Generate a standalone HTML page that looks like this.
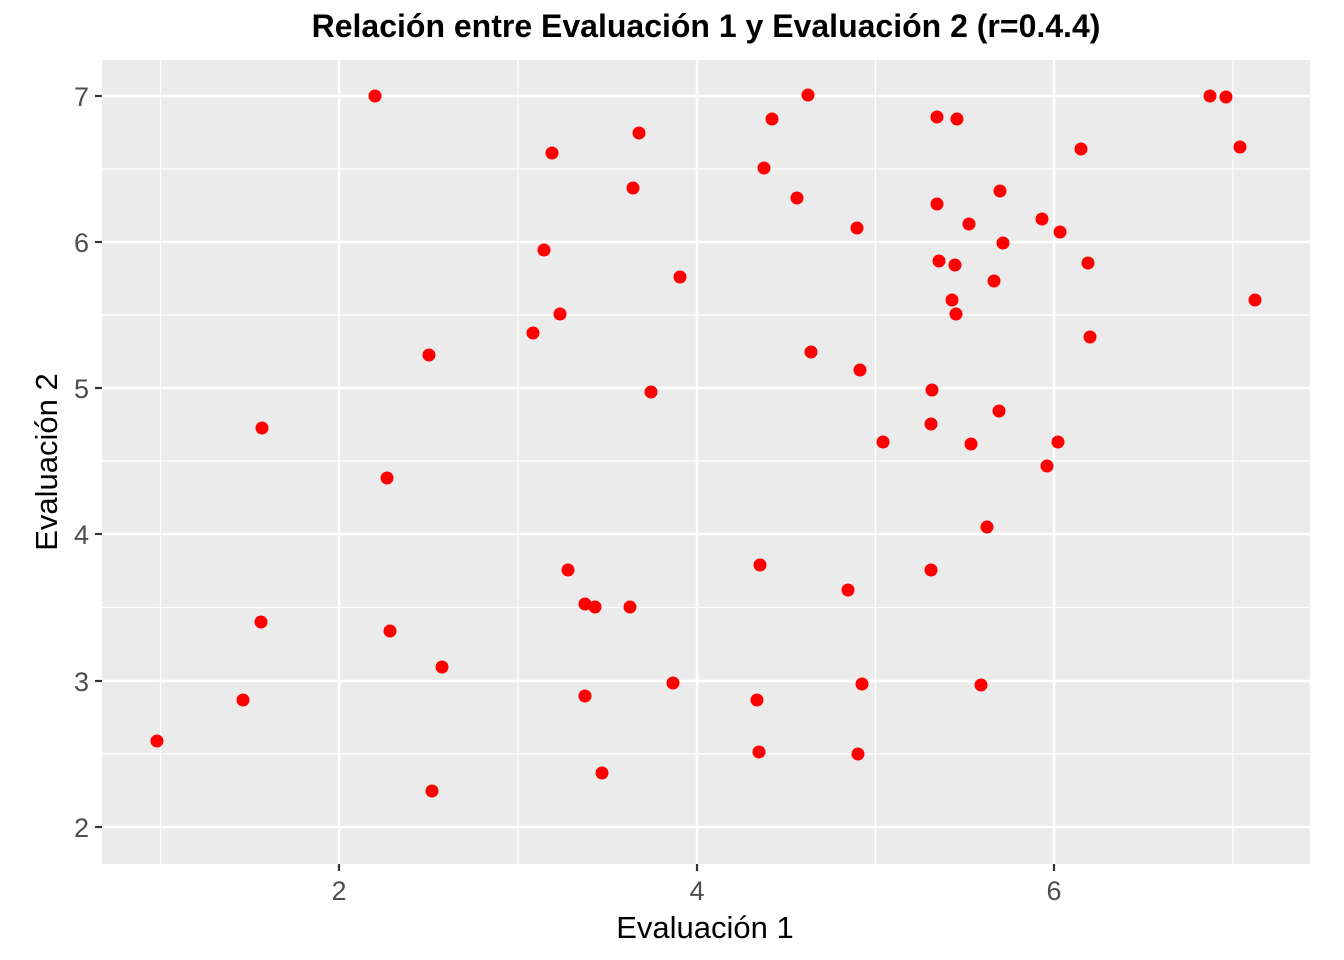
<!DOCTYPE html>
<html><head><meta charset="utf-8"><style>
html,body{margin:0;padding:0;background:#fff;}
svg{display:block;font-family:"Liberation Sans",sans-serif;}
</style></head><body>
<svg width="1344" height="960" viewBox="0 0 1344 960">
<rect x="0" y="0" width="1344" height="960" fill="#fff"/>
<rect x="102" y="60" width="1208" height="804" fill="#ebebeb"/>
<g stroke="#fff" stroke-width="1.2">
<line x1="160.5" y1="60" x2="160.5" y2="864"/>
<line x1="518" y1="60" x2="518" y2="864"/>
<line x1="875.5" y1="60" x2="875.5" y2="864"/>
<line x1="1233" y1="60" x2="1233" y2="864"/>
<line x1="102" y1="169" x2="1310" y2="169"/>
<line x1="102" y1="315" x2="1310" y2="315"/>
<line x1="102" y1="461" x2="1310" y2="461"/>
<line x1="102" y1="607.5" x2="1310" y2="607.5"/>
<line x1="102" y1="754" x2="1310" y2="754"/>
</g>
<g stroke="#fff" stroke-width="2.4">
<line x1="339" y1="60" x2="339" y2="864"/>
<line x1="697" y1="60" x2="697" y2="864"/>
<line x1="1054" y1="60" x2="1054" y2="864"/>
<line x1="102" y1="96" x2="1310" y2="96"/>
<line x1="102" y1="242" x2="1310" y2="242"/>
<line x1="102" y1="388" x2="1310" y2="388"/>
<line x1="102" y1="534" x2="1310" y2="534"/>
<line x1="102" y1="681" x2="1310" y2="681"/>
<line x1="102" y1="827" x2="1310" y2="827"/>
</g>
<g stroke="#333" stroke-width="2.2">
<line x1="339" y1="864" x2="339" y2="871"/>
<line x1="697" y1="864" x2="697" y2="871"/>
<line x1="1054" y1="864" x2="1054" y2="871"/>
<line x1="95" y1="96" x2="102" y2="96"/>
<line x1="95" y1="242" x2="102" y2="242"/>
<line x1="95" y1="388" x2="102" y2="388"/>
<line x1="95" y1="534" x2="102" y2="534"/>
<line x1="95" y1="681" x2="102" y2="681"/>
<line x1="95" y1="827" x2="102" y2="827"/>
</g>
<g fill="#4d4d4d" font-size="27" text-anchor="middle">
<text x="339" y="900">2</text>
<text x="697" y="900">4</text>
<text x="1054" y="900">6</text>
</g>
<g fill="#4d4d4d" font-size="27" text-anchor="end">
<text x="89" y="106">7</text>
<text x="89" y="252">6</text>
<text x="89" y="398">5</text>
<text x="89" y="544">4</text>
<text x="89" y="691">3</text>
<text x="89" y="837">2</text>
</g>
<text x="705" y="938" font-size="31" text-anchor="middle" fill="#000">Evaluación 1</text>
<text transform="translate(57,462) rotate(-90)" font-size="31" text-anchor="middle" fill="#000">Evaluación 2</text>
<text x="706" y="37" font-size="32" font-weight="bold" text-anchor="middle" fill="#000">Relación entre Evaluación 1 y Evaluación 2 (r=0.4.4)</text>
<g fill="#ff0000">
<circle cx="157" cy="741" r="6.5"/><circle cx="243" cy="700" r="6.5"/><circle cx="262" cy="428" r="6.5"/><circle cx="261" cy="622" r="6.5"/>
<circle cx="375" cy="96" r="6.5"/><circle cx="387" cy="478" r="6.5"/><circle cx="390" cy="631" r="6.5"/><circle cx="429" cy="355" r="6.5"/>
<circle cx="432" cy="791" r="6.5"/><circle cx="442" cy="667" r="6.5"/><circle cx="533" cy="333" r="6.5"/><circle cx="544" cy="250" r="6.5"/>
<circle cx="552" cy="153" r="6.5"/><circle cx="560" cy="314" r="6.5"/><circle cx="568" cy="570" r="6.5"/><circle cx="585" cy="604" r="6.5"/>
<circle cx="585" cy="696" r="6.5"/><circle cx="595" cy="607" r="6.5"/><circle cx="602" cy="773" r="6.5"/><circle cx="630" cy="607" r="6.5"/>
<circle cx="633" cy="188" r="6.5"/><circle cx="639" cy="133" r="6.5"/><circle cx="651" cy="392" r="6.5"/><circle cx="673" cy="683" r="6.5"/>
<circle cx="680" cy="277" r="6.5"/><circle cx="757" cy="700" r="6.5"/><circle cx="759" cy="752" r="6.5"/><circle cx="760" cy="565" r="6.5"/>
<circle cx="764" cy="168" r="6.5"/><circle cx="772" cy="119" r="6.5"/><circle cx="797" cy="198" r="6.5"/><circle cx="808" cy="95" r="6.5"/>
<circle cx="811" cy="352" r="6.5"/><circle cx="848" cy="590" r="6.5"/><circle cx="857" cy="228" r="6.5"/><circle cx="858" cy="754" r="6.5"/>
<circle cx="860" cy="370" r="6.5"/><circle cx="862" cy="684" r="6.5"/><circle cx="883" cy="442" r="6.5"/><circle cx="931" cy="424" r="6.5"/>
<circle cx="931" cy="570" r="6.5"/><circle cx="932" cy="390" r="6.5"/><circle cx="937" cy="117" r="6.5"/><circle cx="937" cy="204" r="6.5"/>
<circle cx="939" cy="261" r="6.5"/><circle cx="952" cy="300" r="6.5"/><circle cx="955" cy="265" r="6.5"/><circle cx="956" cy="314" r="6.5"/>
<circle cx="957" cy="119" r="6.5"/><circle cx="969" cy="224" r="6.5"/><circle cx="971" cy="444" r="6.5"/><circle cx="981" cy="685" r="6.5"/>
<circle cx="987" cy="527" r="6.5"/><circle cx="994" cy="281" r="6.5"/><circle cx="999" cy="411" r="6.5"/><circle cx="1000" cy="191" r="6.5"/>
<circle cx="1003" cy="243" r="6.5"/><circle cx="1042" cy="219" r="6.5"/><circle cx="1047" cy="466" r="6.5"/><circle cx="1058" cy="442" r="6.5"/>
<circle cx="1060" cy="232" r="6.5"/><circle cx="1081" cy="149" r="6.5"/><circle cx="1088" cy="263" r="6.5"/><circle cx="1090" cy="337" r="6.5"/>
<circle cx="1210" cy="96" r="6.5"/><circle cx="1226" cy="97" r="6.5"/><circle cx="1240" cy="147" r="6.5"/><circle cx="1255" cy="300" r="6.5"/>
</g>
</svg>
</body></html>
